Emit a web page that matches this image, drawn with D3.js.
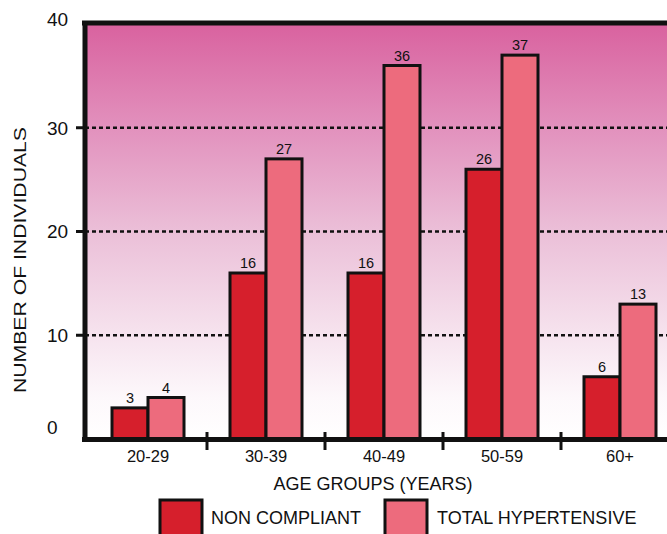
<!DOCTYPE html>
<html><head><meta charset="utf-8">
<script src="https://cdn.jsdelivr.net/npm/d3@7"></script>
<style>
html,body{margin:0;padding:0;background:#fff;}
svg{display:block;font-family:"Liberation Sans",Arial,Helvetica,sans-serif;}
</style></head>
<body><svg id="chart" width="667" height="534"></svg>
<script>
const categories = ["20-29","30-39","40-49","50-59","60+"];
const nonCompliant = [3,16,16,26,6];
const totalHypertensive = [4,27,36,37,13];
const yTicks = [0,10,20,30,40];
const gridValues = [10,20,30];
const seriesNames = ["NON COMPLIANT","TOTAL HYPERTENSIVE"];
const seriesColors = ["#d61f2c","#ed6b7d"];

(function(){
const svg = d3.select("#chart");
const W = 667;
const pLeft = 85, pTop = 24, pBottom = 439;

const x = d3.scaleBand().domain(categories).range([89, 679]).padding(0);
const y = d3.scaleLinear().domain([0,40]).range([pBottom, pTop]);

// gradient background
const defs = svg.append("defs");
const grad = defs.append("linearGradient").attr("id","bg").attr("x1",0).attr("y1",0).attr("x2",0).attr("y2",1);
[[0,"#d9629f"],[0.25,"#e291bd"],[0.5,"#ebbfd8"],[0.75,"#f6e3ee"],[0.9,"#fdf8fb"],[1,"#ffffff"]]
  .forEach(([o,c])=>grad.append("stop").attr("offset",o).attr("stop-color",c));
svg.append("rect").attr("x",pLeft).attr("y",pTop).attr("width",W-pLeft).attr("height",pBottom-pTop).attr("fill","url(#bg)");

// gridlines
svg.append("g").selectAll("line").data(gridValues).join("line")
  .attr("x1",pLeft).attr("x2",W).attr("y1",d=>y(d)).attr("y2",d=>y(d))
  .attr("stroke","#111").attr("stroke-width",2.4).attr("stroke-dasharray","4,3");

// bars
const bw = 36;
const rows = categories.map((c,i)=>({c, v:[nonCompliant[i], totalHypertensive[i]]}));
const g = svg.append("g");
rows.forEach(r=>{
  const cx = x(r.c) + x.bandwidth()/2;
  r.v.forEach((v,j)=>{
    const bx = cx - bw + j*bw;
    g.append("rect").attr("x",bx).attr("y",y(v)).attr("width",bw).attr("height",y(0)-y(v))
      .attr("fill",seriesColors[j]).attr("stroke","#111").attr("stroke-width",3);
    g.append("text").attr("x",bx+bw/2).attr("y",y(v)-5).attr("text-anchor","middle")
      .attr("font-size",14.5).attr("fill","#111").text(v);
  });
});

// frame lines
svg.append("line").attr("x1",pLeft-3).attr("x2",W).attr("y1",pTop-1).attr("y2",pTop-1).attr("stroke","#111").attr("stroke-width",5);
svg.append("line").attr("x1",pLeft).attr("x2",pLeft).attr("y1",pTop-3).attr("y2",pBottom+3).attr("stroke","#111").attr("stroke-width",5);
svg.append("line").attr("x1",pLeft-3).attr("x2",W).attr("y1",pBottom+0.5).attr("y2",pBottom+0.5).attr("stroke","#111").attr("stroke-width",5);

// left ticks
svg.append("g").selectAll("line").data(gridValues).join("line")
  .attr("x1",76).attr("x2",pLeft).attr("y1",d=>y(d)).attr("y2",d=>y(d))
  .attr("stroke","#111").attr("stroke-width",3);
// y tick labels
const labOffset = {0:-12, 40:-5};
svg.append("g").selectAll("text").data(yTicks).join("text")
  .attr("x",47).attr("y",d=>y(d)+(labOffset[d]||0)).attr("dy","0.36em")
  .attr("font-size",19).attr("fill","#111").text(d=>d);

// bottom ticks at band boundaries
const bounds = categories.slice(1).map(c=>x(c));
svg.append("g").selectAll("line").data(bounds).join("line")
  .attr("x1",d=>d).attr("x2",d=>d).attr("y1",432).attr("y2",450)
  .attr("stroke","#111").attr("stroke-width",3);
// category labels
svg.append("g").selectAll("text").data(categories).join("text")
  .attr("x",d=>x(d)+x.bandwidth()/2).attr("y",462).attr("text-anchor","middle")
  .attr("font-size",16.5).attr("fill","#111").text(d=>d);

// axis titles
svg.append("text").attr("x",373).attr("y",490).attr("text-anchor","middle")
  .attr("font-size",18).attr("fill","#111").text("AGE GROUPS (YEARS)");
svg.append("text").attr("transform","translate(26,260) rotate(-90)").attr("text-anchor","middle")
  .attr("font-size",17).attr("fill","#111").attr("textLength",266).attr("lengthAdjust","spacingAndGlyphs")
  .text("NUMBER OF INDIVIDUALS");

// legend
const legX = [160, 385], legT = [211, 437];
seriesNames.forEach((n,i)=>{
  svg.append("rect").attr("x",legX[i]).attr("y",500).attr("width",42).attr("height",44)
    .attr("fill",seriesColors[i]).attr("stroke","#111").attr("stroke-width",3);
  svg.append("text").attr("x",legT[i]).attr("y",524).attr("font-size",18).attr("fill","#111").text(n);
});
})();
</script></body></html>
